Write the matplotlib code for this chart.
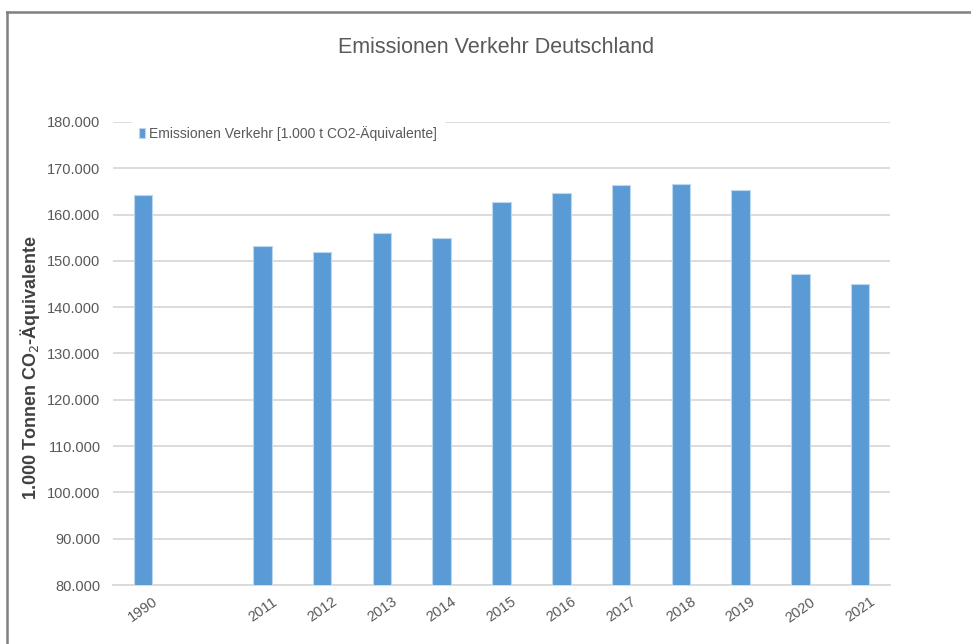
import matplotlib
matplotlib.use("Agg")
import matplotlib.pyplot as plt
from matplotlib.lines import Line2D
from matplotlib.ticker import FuncFormatter

# data (1.000 t CO2-Äquivalente), blank slot between 1990 and 2011
years = ['1990', '', '2011', '2012', '2013', '2014', '2015', '2016',
         '2017', '2018', '2019', '2020', '2021']
emissions = [164.3, None, 153.3, 151.9, 156.0, 154.9, 162.7, 164.7,
             166.3, 166.7, 165.3, 147.1, 145.1]
yticks = [80, 90, 100, 110, 120, 130, 140, 150, 160, 170, 180]

plt.rcParams['font.family'] = ['Liberation Sans', 'DejaVu Sans']
txt_color = '#595959'

fig = plt.figure(figsize=(9.71, 6.44), dpi=100)
ax = fig.add_axes([0.1164, 0.0916, 0.8002, 0.719])

xs = [i for i, v in enumerate(emissions) if v is not None]
vals = [emissions[i] * 1000 for i in xs]
ax.bar(xs, vals, width=0.31, color='#5B9BD5', edgecolor='#BDD7EE',
       linewidth=0.8, zorder=3,
       label='Emissionen Verkehr [1.000 t CO2-Äquivalente]')

ax.set_xlim(-0.5, len(years) - 0.5)
ax.set_ylim(80000, 180000)
ax.set_yticks([t * 1000 for t in yticks])
ax.yaxis.set_major_formatter(FuncFormatter(lambda v, p: f'{v/1000:.0f}.000'))
ax.set_xticks(range(len(years)))
ax.set_xticklabels(years, rotation=35, ha='center')

ax.grid(axis='y', color='#D9D9D9', linewidth=1.3, zorder=0)
ax.tick_params(axis='both', length=0, colors=txt_color, labelsize=10.5)
ax.tick_params(axis='x', pad=7)
ax.tick_params(axis='y', pad=9)
for s in ['top', 'right', 'left']:
    ax.spines[s].set_visible(False)
ax.spines['bottom'].set_color('#D9D9D9')
ax.spines['bottom'].set_linewidth(1.3)

ax.set_ylabel('1.000 Tonnen CO$_2$-Äquivalente', fontsize=13, fontweight='bold',
              color='#404040')
ax.yaxis.set_label_coords(-0.092, 0.47)

fig.text(0.511, 0.927, 'Emissionen Verkehr Deutschland', ha='center', va='center',
         fontsize=15.5, color=txt_color)

leg = ax.legend(loc='upper left', bbox_to_anchor=(0.024, 1.006), frameon=True,
                fontsize=10, handlelength=0.45, handleheight=0.75,
                handletextpad=0.3, borderpad=0.5, borderaxespad=0.0)
leg.get_frame().set_facecolor('white')
leg.get_frame().set_edgecolor('white')
leg.get_frame().set_alpha(1.0)
leg.set_zorder(5)
for t in leg.get_texts():
    t.set_color(txt_color)

# outer chart frame (top and left)
fig.add_artist(Line2D([0.0072, 1.0], [0.9814, 0.9814], color='#808080', linewidth=1.8))
fig.add_artist(Line2D([0.0072, 0.0072], [0.0, 0.9814], color='#808080', linewidth=1.8))

fig.savefig('out.png', dpi=100, facecolor='white')
